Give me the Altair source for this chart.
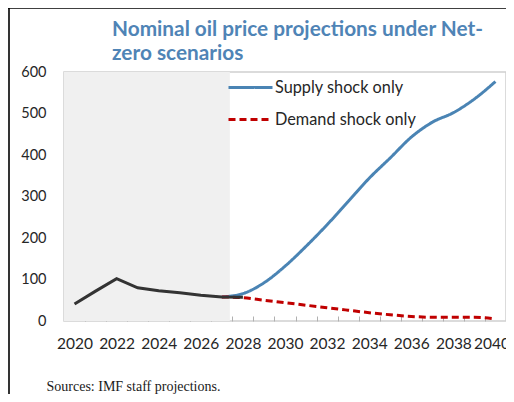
import altair as alt
import pandas as pd

# ---- data ----
weo_years = [2020, 2021, 2022, 2023, 2024, 2025, 2026, 2027, 2028]
weo_values = [41, 72, 102, 80, 73, 68, 62, 58, 57]

scen_years = list(range(2027, 2041))
supply_values = [58, 66, 92, 132, 180, 232, 288, 344, 393, 443, 479, 502, 535, 577]
demand_values = [58, 56, 50, 44, 38, 32, 26, 20, 15, 11, 9, 9, 9, 5]

series_names = ["Supply shock only", "Demand shock only"]
series_colors = ["#4A84B4", "#C00000"]

weo_start, weo_end = 2019.5, 2027.38
y_ticks = [0, 100, 200, 300, 400, 500, 600]
x_label_years = list(range(2020, 2041, 2))
x_tick_bounds = [y + 0.5 for y in range(2020, 2040)]

title_lines = ["Nominal oil price projections under Net-", "zero scenarios"]
source_note = "Sources: IMF staff projections."

# ---- tables ----
weo_df = pd.DataFrame({"year": weo_years, "value": weo_values})
scen_df = pd.DataFrame({
    "year": scen_years * 2,
    "value": supply_values + demand_values,
    "series": [series_names[0]] * len(scen_years) + [series_names[1]] * len(scen_years),
})
band_df = pd.DataFrame({"x": [weo_start], "x2": [weo_end], "y": [0], "y2": [600]})

xscale = alt.Scale(domain=[2019.5, 2040.5], nice=False, zero=False)
yscale = alt.Scale(domain=[0, 600], nice=False)

FONT = "Lato"

last_label_shift = {"condition": {"test": "datum.value == 2040", "value": -4}, "value": 0}

band = alt.Chart(band_df).mark_rect(color="#F0F0F0").encode(
    x=alt.X("x:Q", scale=xscale, axis=alt.Axis(
        orient="bottom", values=x_label_years, ticks=False, domain=False, grid=False,
        labelFont=FONT, labelFontSize=15.5, labelColor="#262626", labelPadding=15,
        labelBaseline="top", format="d", labelFlush=False, labelOffset=last_label_shift,
        labelOverlap=False,
        title=source_note, titleFont="Liberation Serif", titleFontSize=14,
        titleFontWeight="normal", titleColor="#1a1a1a", titleAnchor="start",
        titleAlign="left", titleBaseline="alphabetic", titleX=-18, titleY=69,
    )),
    x2="x2:Q",
    y=alt.Y("y:Q", scale=yscale, axis=alt.Axis(
        orient="left", values=y_ticks, ticks=False, domain=False, grid=False,
        labelFont=FONT, labelFontSize=14.5, labelColor="#262626", labelPadding=18,
        title=None,
    )),
    y2="y2:Q",
)

weo_line = alt.Chart(weo_df).mark_line(color="#333333", strokeWidth=3).encode(
    x=alt.X("year:Q", scale=xscale, axis=alt.Axis(
        orient="bottom", values=x_tick_bounds, labels=False, domain=False, grid=False,
        ticks=True, tickSize=5, offset=-5, tickColor="#B0B0B0", title=None,
    )),
    y=alt.Y("value:Q", scale=yscale, axis=alt.Axis(
        orient="left", values=[100, 200, 300, 400, 500], labels=False, domain=False,
        grid=False, ticks=True, tickSize=5, offset=-5, tickColor="#B0B0B0", title=None,
    )),
)

scen_lines = alt.Chart(scen_df).mark_line(strokeWidth=3, interpolate="monotone").encode(
    x=alt.X("year:Q", scale=xscale, axis=None),
    y=alt.Y("value:Q", scale=yscale, axis=None),
    color=alt.Color("series:N", scale=alt.Scale(domain=series_names, range=series_colors),
                    legend=alt.Legend(title=None)),
    strokeDash=alt.StrokeDash("series:N", scale=alt.Scale(domain=series_names, range=[[1, 0], [7, 4]]),
                              legend=alt.Legend(title=None)),
)

frame_left = alt.Chart(band_df).mark_rule(color="#000000", strokeWidth=1.6).encode(
    x=alt.value(-55), y=alt.value(-64), y2=alt.value(330)
)
frame_top = alt.Chart(band_df).mark_rule(color="#000000", strokeWidth=1.6).encode(
    x=alt.value(-56), x2=alt.value(450), y=alt.value(-64)
)

chart = alt.layer(band, scen_lines, weo_line, frame_left, frame_top).resolve_axis(
    x="independent", y="independent"
).properties(
    width=442,
    height=249,
    autosize=alt.AutoSizeParams(type="none"),
    padding={"left": 56, "top": 64, "right": 0, "bottom": 73},
    title=alt.TitleParams(
        text=title_lines, anchor="start", frame="group", dx=48, dy=58, offset=0,
        font=FONT, fontSize=20.8, fontWeight="bold", color="#4F84B6", lineHeight=24,
    ),
).configure_view(
    stroke="#D0D0D0", strokeWidth=1.5
).configure_legend(
    orient="none", legendX=163, legendY=-8, padding=0,
    symbolType="stroke", symbolSize=1936, symbolStrokeWidth=3, rowPadding=-7,
    labelFont=FONT, labelFontSize=16.3, labelColor="#262626", labelOffset=1,
    labelLimit=300,
)

chart.save("out.html", embed_options={"renderer": "svg", "actions": False})
